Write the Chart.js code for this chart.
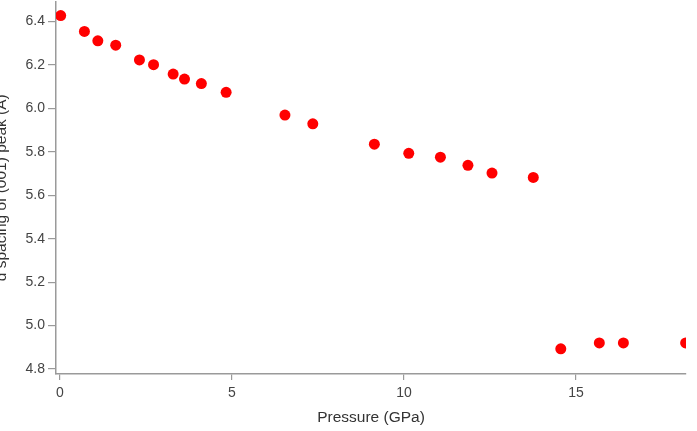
<!DOCTYPE html>
<html>
<head>
<meta charset="utf-8">
<script src="https://cdn.jsdelivr.net/npm/chart.js@4/dist/chart.umd.min.js"></script>
<style>
  html, body { margin: 0; padding: 0; background: #fff; overflow: hidden; }
  #wrap { position: absolute; left: -8px; top: -4px; width: 705px; height: 435px; }
</style>
</head>
<body>
<div id="wrap"><canvas id="chart"></canvas></div>
<script>
"use strict";

// Pressure (GPa) vs d spacing of (001) peak (Å)
var pressure = [0.02, 0.71, 1.10, 1.62, 2.31, 2.72, 3.29, 3.62, 4.11, 4.83,
                6.54, 7.35, 9.14, 10.14, 11.06, 11.86, 12.56, 13.76,
                14.56, 15.68, 16.38, 18.19];
var dSpacing = [6.427, 6.354, 6.311, 6.291, 6.223, 6.201, 6.158, 6.135, 6.114, 6.074,
                5.969, 5.929, 5.835, 5.793, 5.775, 5.738, 5.702, 5.682,
                4.893, 4.920, 4.920, 4.920];

var xTicks = [0, 5, 10, 15];
var yTicks = [4.8, 5.0, 5.2, 5.4, 5.6, 5.8, 6.0, 6.2, 6.4];

var points = pressure.map(function(p, i) { return { x: p, y: dSpacing[i] }; });

var AXIS = '#9a9a9a';
var TICK_FONT = { family: 'Liberation Sans, Arial, sans-serif', size: 14 };
var TITLE_FONT = { family: 'Liberation Sans, Arial, sans-serif', size: 15.5 };

new Chart(document.getElementById('chart'), {
  type: 'scatter',
  data: {
    datasets: [{
      data: points,
      backgroundColor: '#ff0000',
      borderWidth: 0,
      pointRadius: 5.5,
      pointHoverRadius: 5.5
    }]
  },
  options: {
    responsive: true,
    maintainAspectRatio: false,
    animation: false,
    layout: { padding: { top: 0, right: 11, bottom: 0, left: 0 } },
    plugins: { legend: { display: false }, tooltip: { enabled: false } },
    scales: {
      x: {
        type: 'linear',
        min: -0.116,
        max: 18.2,
        afterBuildTicks: function(s) { s.ticks = xTicks.map(function(v) { return { value: v }; }); },
        afterFit: function(s) { s.height = 57; s.paddingLeft = 0; s.paddingRight = 0; },
        border: { color: AXIS, width: 1.5 },
        grid: { drawOnChartArea: false, drawTicks: true, tickLength: 6, color: AXIS, lineWidth: 1.2 },
        ticks: { color: '#444', font: TICK_FONT, padding: 5, maxRotation: 0 },
        title: { display: true, text: 'Pressure (GPa)', color: '#333', font: TITLE_FONT, padding: { top: 0 } }
      },
      y: {
        min: 4.777,
        max: 6.492,
        afterBuildTicks: function(s) { s.ticks = yTicks.map(function(v) { return { value: v }; }); },
        afterFit: function(s) { s.width = 64; s.paddingTop = 0; s.paddingBottom = 0; },
        border: { color: AXIS, width: 1.5 },
        grid: { drawOnChartArea: false, drawTicks: true, tickLength: 8, color: AXIS, lineWidth: 1.2 },
        ticks: {
          color: '#444', font: TICK_FONT, padding: 3,
          callback: function(v) { return v.toFixed(1); }
        },
        title: { display: true, text: 'd spacing of (001) peak (Å)', color: '#333', font: TITLE_FONT, padding: 0 }
      }
    }
  }
});
</script>
</body>
</html>
